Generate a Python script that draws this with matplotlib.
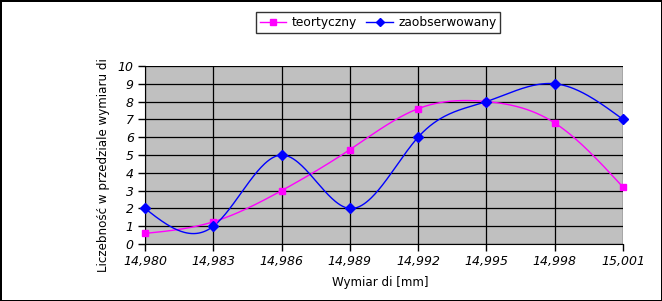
import numpy as np
import matplotlib
matplotlib.use("Agg")
import matplotlib.pyplot as plt
from matplotlib.ticker import FuncFormatter
from matplotlib.lines import Line2D

x_vals = [14.980, 14.983, 14.986, 14.989, 14.992, 14.995, 14.998, 15.001]
teortyczny = [0.6, 1.25, 3.0, 5.3, 7.6, 8.0, 6.8, 3.2]
zaobserwowany = [2, 1, 5, 2, 6, 8, 9, 7]
y_ticks = list(range(0, 11))

def natural_spline(x, y, n=400):
    x = np.asarray(x, float); y = np.asarray(y, float)
    m = len(x); h = np.diff(x)
    A = np.zeros((m, m)); b = np.zeros(m)
    A[0, 0] = 1; A[-1, -1] = 1
    for i in range(1, m - 1):
        A[i, i - 1] = h[i - 1]; A[i, i] = 2 * (h[i - 1] + h[i]); A[i, i + 1] = h[i]
        b[i] = 3 * ((y[i + 1] - y[i]) / h[i] - (y[i] - y[i - 1]) / h[i - 1])
    c = np.linalg.solve(A, b)
    xs = np.linspace(x[0], x[-1], n); ys = np.empty_like(xs)
    for k, xv in enumerate(xs):
        i = min(np.searchsorted(x, xv, side='right') - 1, m - 2)
        dx = xv - x[i]
        bb = (y[i + 1] - y[i]) / h[i] - h[i] * (2 * c[i] + c[i + 1]) / 3
        d = (c[i + 1] - c[i]) / (3 * h[i])
        ys[k] = y[i] + bb * dx + c[i] * dx ** 2 + d * dx ** 3
    return xs, ys

fig = plt.figure(figsize=(6.62, 3.01), dpi=100)
fig.patch.set_edgecolor('black'); fig.patch.set_linewidth(2)
ax = fig.add_axes([0.219, 0.189, 0.722, 0.592])
ax.set_facecolor('#c0c0c0')

mag = '#ff00ff'; blu = '#0000ff'
xs, ys = natural_spline(x_vals, teortyczny)
ax.plot(xs, ys, color=mag, lw=1, zorder=3)
ax.plot(x_vals, teortyczny, 's', color=mag, ms=5, zorder=4, clip_on=False)
xs, ys = natural_spline(x_vals, zaobserwowany)
ax.plot(xs, ys, color=blu, lw=1, zorder=3)
ax.plot(x_vals, zaobserwowany, 'D', color=blu, ms=5, zorder=4, clip_on=False)

ax.set_xlim(x_vals[0], x_vals[-1]); ax.set_ylim(0, 10)
ax.set_xticks(x_vals); ax.set_yticks(y_ticks)
ax.xaxis.set_major_formatter(FuncFormatter(lambda v, p: f"{v:.3f}".replace('.', ',')))
ax.grid(True, color='black', lw=0.9)
ax.set_axisbelow(True)
for s in ax.spines.values():
    s.set_visible(False)
ax.spines['left'].set_visible(True); ax.spines['bottom'].set_visible(True)
ax.tick_params(direction='out', length=5, width=1, labelsize=9, pad=3)
for t in ax.get_xticklabels() + ax.get_yticklabels():
    t.set_style('italic')
ax.set_xlabel('Wymiar di [mm]', fontsize=8.6)
ax.set_ylabel('Liczebność w przedziale wymiaru di', fontsize=8.6)
ax.xaxis.set_label_coords(0.492, -0.213)
ax.yaxis.set_label_coords(-0.086, 0.444)
ax.xaxis.label.set_va('center'); ax.yaxis.label.set_va('center')

handles = [Line2D([], [], color=mag, marker='s', ms=5, lw=1),
           Line2D([], [], color=blu, marker='D', ms=4, lw=1)]
leg = fig.legend(handles, ['teortyczny', 'zaobserwowany'], loc='center', bbox_to_anchor=(0.571, 0.925),
                 ncol=2, fontsize=8.8, frameon=True, fancybox=False, edgecolor='black', handlelength=2.2,
                 columnspacing=0.8, handletextpad=0.4, borderpad=0.3, borderaxespad=0)
leg.get_frame().set_linewidth(1)

fig.savefig('out.png', dpi=100, edgecolor=fig.get_edgecolor())
